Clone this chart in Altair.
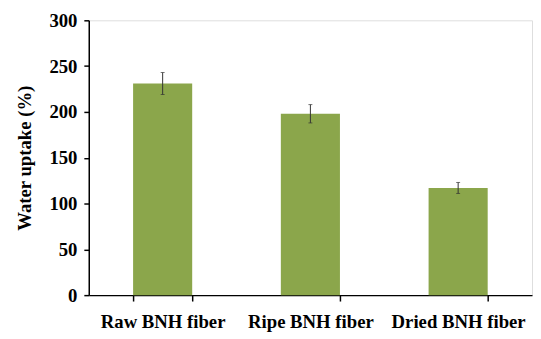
import altair as alt
import pandas as pd

categories = ["Raw BNH fiber", "Ripe BNH fiber", "Dried BNH fiber"]
uptake = [231, 198, 117]
errors = [12, 10, 6]

df = pd.DataFrame({"cat": categories, "val": uptake, "err": errors})
df["lo"] = df["val"] - df["err"]
df["hi"] = df["val"] + df["err"]

FONT = "Liberation Serif"

xenc = alt.X("cat:N", sort=categories, title=None,
             scale=alt.Scale(paddingInner=0.6, paddingOuter=0.3),
             axis=alt.Axis(labelAngle=0, labelFont=FONT, labelFontSize=19, labelFontWeight="bold",
                           labelColor="black", labelPadding=12, tickBand="extent", tickSize=6,
                           domainColor="black", domainWidth=1.5, tickColor="black", tickWidth=1.5))

bars = alt.Chart(df).mark_bar(color="#8BA64B").encode(
    x=xenc,
    y=alt.Y("val:Q", title="Water uptake (%)",
            scale=alt.Scale(domain=[0, 300], nice=False),
            axis=alt.Axis(values=[0, 50, 100, 150, 200, 250, 300], grid=False,
                          labelFont=FONT, labelFontSize=19, labelFontWeight="bold", labelColor="black",
                          labelPadding=7, tickSize=5, tickColor="black", tickWidth=1.5,
                          domainColor="black", domainWidth=1.5,
                          titleFont=FONT, titleFontSize=19, titleFontWeight="bold", titleColor="black",
                          titleX=-55))
)

rules = alt.Chart(df).mark_rule(color="#333333", strokeWidth=1).encode(
    x=alt.X("cat:N", sort=categories), y="lo:Q", y2="hi:Q")
caps_hi = alt.Chart(df).mark_tick(color="#333333", thickness=1, size=4).encode(
    x=alt.X("cat:N", sort=categories), y="hi:Q")
caps_lo = alt.Chart(df).mark_tick(color="#333333", thickness=1, size=4).encode(
    x=alt.X("cat:N", sort=categories), y="lo:Q")

chart = alt.layer(bars, rules, caps_hi, caps_lo).properties(
    width=450, height=279,
    autosize=alt.AutoSizeParams(type="none"),
    padding={"left": 82, "top": 10, "right": 1, "bottom": 40},
).configure_view(stroke=None).configure(background="white")

chart.save("out.html", embed_options={"renderer": "svg", "actions": False})
